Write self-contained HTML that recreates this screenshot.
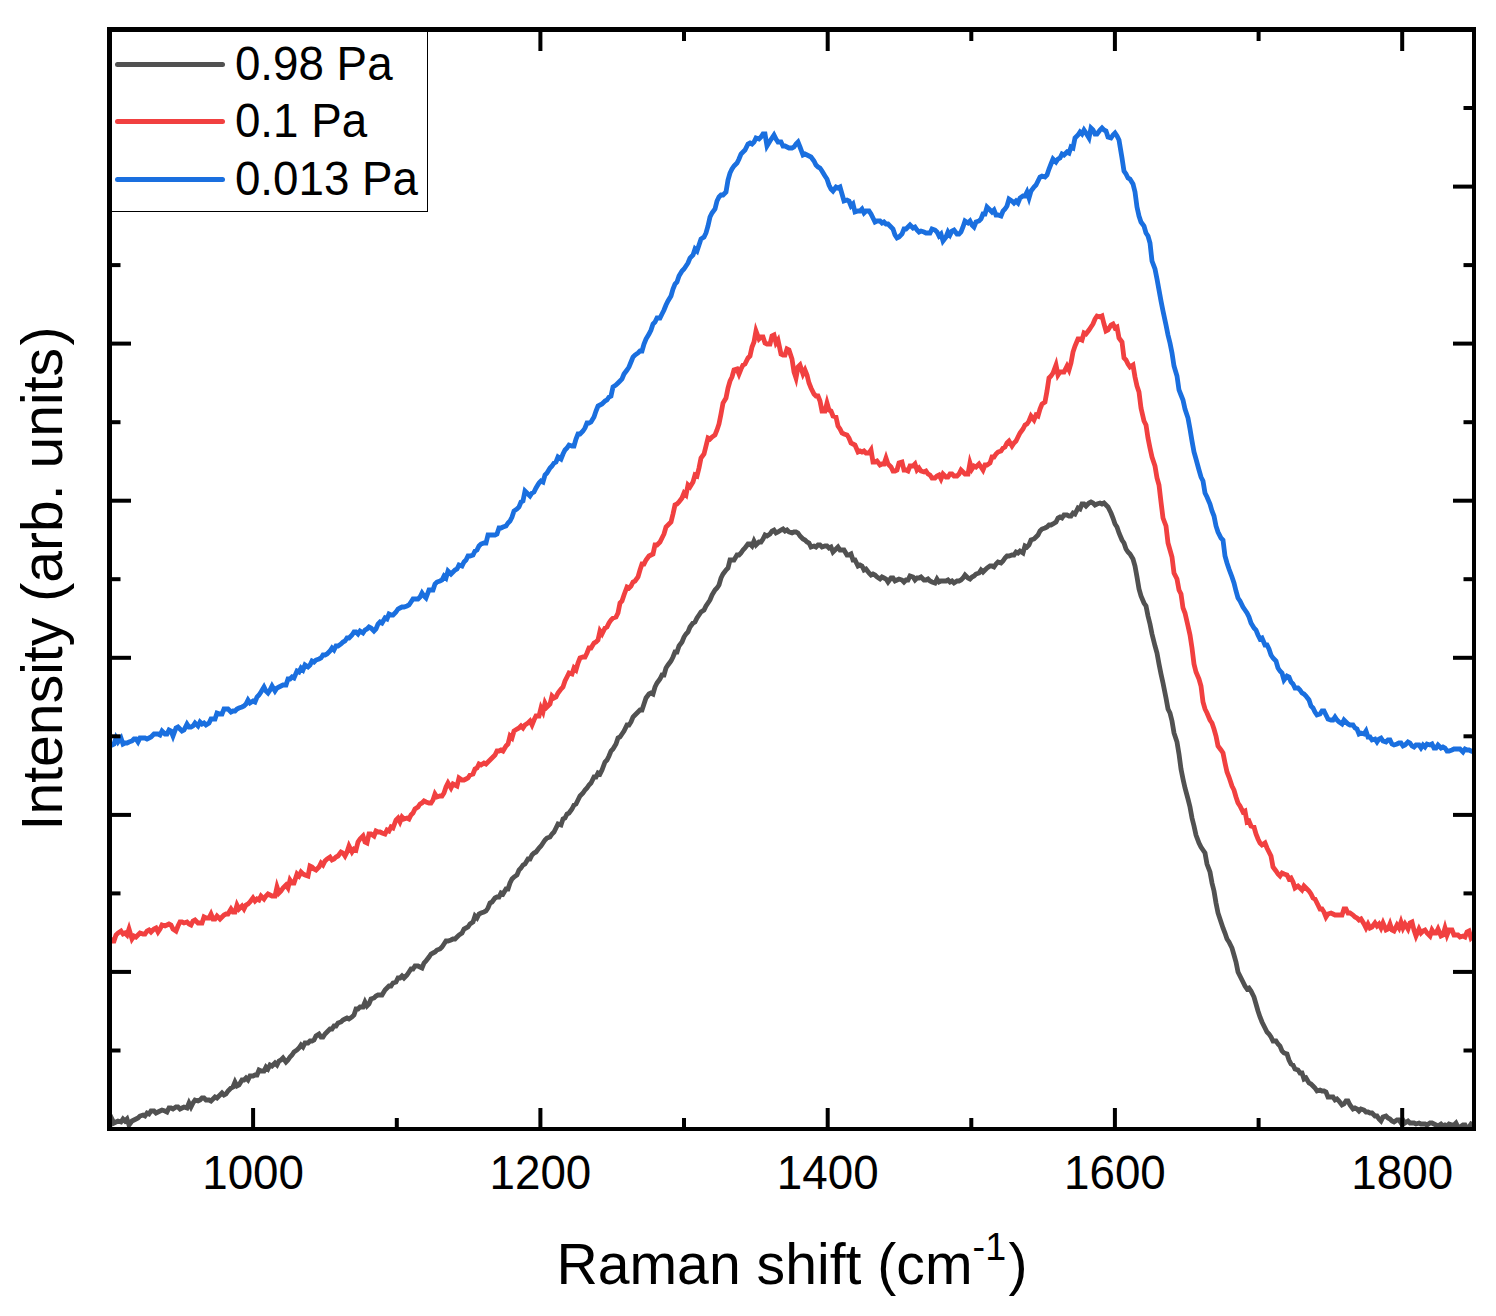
<!DOCTYPE html>
<html lang="en"><head><meta charset="utf-8"><title>Raman spectra</title>
<style>
html,body{margin:0;padding:0;background:#fff;width:1496px;height:1316px;overflow:hidden}
svg text{font-family:"Liberation Sans",Arial,sans-serif}
</style></head><body>
<svg width="1496" height="1316" viewBox="0 0 1496 1316" style="display:block">
<rect x="0" y="0" width="1496" height="1316" fill="#fff"/>
<defs><clipPath id="plot"><rect x="109.5" y="29.5" width="1364.5" height="1099.5"/></clipPath></defs>
<g clip-path="url(#plot)" fill="none" stroke-linejoin="miter" stroke-miterlimit="5" stroke-linecap="butt">
<path d="M110,1126 L112,1119 L114,1123 L116,1122 L118,1121 L121,1122 L123,1119 L125,1121 L127,1119 L129,1125 L132,1121 L134,1120 L136,1119 L138,1118 L140,1116 L143,1115 L145,1116 L147,1113 L149,1114 L151,1111 L154,1111 L156,1113 L158,1112 L160,1111 L162,1110 L165,1111 L167,1112 L169,1108 L171,1108 L173,1109 L176,1107 L178,1107 L180,1109 L182,1108 L184,1107 L187,1108 L189,1103 L191,1107 L193,1103 L195,1100 L198,1101 L200,1100 L202,1098 L204,1098 L206,1100 L209,1100 L211,1101 L213,1099 L215,1097 L217,1098 L220,1095 L222,1093 L224,1095 L226,1094 L228,1091 L231,1088 L233,1087 L235,1082 L237,1086 L239,1085 L242,1080 L244,1080 L246,1078 L248,1080 L250,1076 L253,1076 L255,1075 L257,1075 L259,1070 L261,1071 L264,1071 L266,1067 L268,1069 L270,1065 L272,1066 L275,1063 L277,1065 L279,1061 L281,1060 L283,1058 L286,1062 L288,1060 L290,1057 L292,1055 L294,1052 L297,1050 L299,1048 L301,1045 L303,1047 L305,1043 L308,1043 L310,1041 L312,1041 L314,1040 L316,1036 L319,1034 L321,1037 L323,1037 L325,1034 L327,1032 L330,1029 L332,1029 L334,1026 L336,1026 L338,1023 L341,1022 L343,1020 L345,1019 L347,1018 L349,1019 L352,1017 L354,1015 L356,1009 L358,1009 L360,1007 L363,1007 L365,1002 L367,1006 L369,1004 L371,999 L374,998 L376,996 L378,995 L380,995 L382,995 L385,990 L387,988 L389,986 L391,986 L393,983 L396,982 L398,978 L400,978 L402,976 L404,978 L407,975 L409,972 L411,969 L413,969 L415,966 L418,966 L420,967 L422,968 L424,963 L426,961 L429,957 L431,954 L433,953 L435,952 L437,950 L440,949 L442,947 L444,944 L446,941 L448,941 L451,940 L453,939 L455,939 L457,937 L459,935 L462,933 L464,929 L466,928 L468,927 L470,924 L473,922 L475,916 L477,918 L479,914 L481,913 L484,912 L486,911 L488,908 L490,903 L492,902 L495,898 L497,897 L499,897 L501,893 L503,894 L506,889 L508,889 L510,883 L512,879 L514,877 L517,875 L519,870 L521,868 L523,865 L525,864 L528,859 L530,859 L532,855 L534,853 L536,852 L539,848 L541,846 L543,843 L545,840 L547,838 L550,837 L552,834 L554,832 L556,828 L558,824 L561,825 L563,819 L565,818 L567,814 L569,813 L572,809 L574,805 L576,804 L578,800 L580,796 L583,793 L585,790 L587,788 L589,785 L591,783 L594,777 L596,777 L598,773 L600,774 L602,770 L605,762 L607,760 L609,756 L611,751 L613,749 L616,744 L618,738 L620,737 L622,734 L624,731 L627,725 L629,725 L631,722 L633,717 L635,715 L638,712 L640,710 L642,710 L644,704 L646,698 L649,694 L651,693 L653,694 L655,687 L657,683 L660,679 L662,675 L664,675 L666,668 L668,665 L671,661 L673,657 L675,652 L677,652 L679,646 L682,642 L684,637 L686,634 L688,632 L690,627 L693,623 L695,622 L697,618 L699,615 L701,612 L704,610 L706,606 L708,603 L710,600 L712,595 L715,590 L717,588 L719,585 L721,578 L723,574 L726,570 L728,568 L730,560 L732,560 L734,560 L737,555 L739,555 L741,553 L743,550 L745,548 L748,544 L750,544 L752,546 L754,541 L756,545 L759,542 L761,542 L763,539 L765,535 L767,536 L770,534 L772,531 L774,530 L776,533 L778,532 L781,530 L783,529 L785,531 L787,530 L789,532 L792,533 L794,532 L796,532 L798,533 L800,536 L803,539 L805,540 L807,542 L809,543 L811,547 L814,546 L816,547 L818,545 L820,545 L822,547 L825,546 L827,546 L829,548 L831,547 L833,552 L836,549 L838,547 L840,550 L842,550 L844,550 L847,555 L849,555 L851,554 L853,560 L855,560 L858,566 L860,565 L862,566 L864,570 L866,569 L869,573 L871,575 L873,574 L875,575 L877,577 L880,579 L882,577 L884,578 L886,579 L888,582 L891,578 L893,578 L895,581 L897,580 L899,579 L902,580 L904,582 L906,580 L908,580 L910,576 L913,577 L915,580 L917,578 L919,578 L921,577 L924,580 L926,580 L928,579 L930,581 L932,582 L935,583 L937,579 L939,582 L941,581 L943,581 L946,581 L948,580 L950,582 L952,581 L954,583 L957,581 L959,581 L961,580 L963,578 L965,575 L968,578 L970,579 L972,577 L974,576 L976,574 L979,573 L981,570 L983,572 L985,570 L987,568 L990,566 L992,566 L994,567 L996,564 L998,562 L1001,563 L1003,561 L1005,558 L1007,556 L1009,556 L1012,555 L1014,555 L1016,552 L1018,553 L1020,551 L1023,553 L1025,546 L1027,547 L1029,545 L1031,540 L1034,539 L1036,537 L1038,535 L1040,531 L1042,529 L1045,528 L1047,527 L1049,525 L1051,525 L1053,524 L1056,522 L1058,518 L1060,517 L1062,518 L1064,515 L1067,515 L1069,516 L1071,516 L1073,513 L1075,514 L1078,508 L1080,509 L1082,504 L1084,504 L1086,506 L1089,503 L1091,502 L1093,503 L1095,505 L1097,504 L1100,503 L1102,504 L1104,503 L1106,505 L1108,507 L1111,513 L1113,518 L1115,524 L1117,527 L1119,533 L1122,540 L1124,543 L1126,549 L1128,552 L1130,554 L1133,559 L1135,566 L1137,577 L1139,589 L1141,596 L1144,603 L1146,606 L1148,616 L1150,624 L1152,634 L1155,646 L1157,653 L1159,664 L1161,674 L1163,683 L1166,698 L1168,709 L1170,713 L1172,721 L1174,733 L1177,742 L1179,754 L1181,769 L1183,779 L1185,788 L1188,799 L1190,807 L1192,818 L1194,826 L1196,835 L1199,843 L1201,847 L1203,850 L1205,853 L1207,864 L1210,872 L1212,883 L1214,891 L1216,903 L1218,913 L1221,922 L1223,928 L1225,933 L1227,939 L1229,942 L1232,948 L1234,955 L1236,962 L1238,972 L1240,976 L1243,982 L1245,986 L1247,989 L1249,988 L1251,991 L1254,997 L1256,1004 L1258,1011 L1260,1017 L1262,1022 L1265,1028 L1267,1032 L1269,1034 L1271,1037 L1273,1041 L1276,1041 L1278,1044 L1280,1046 L1282,1051 L1284,1053 L1287,1054 L1289,1060 L1291,1064 L1293,1065 L1295,1069 L1298,1070 L1300,1073 L1302,1073 L1304,1079 L1306,1078 L1309,1083 L1311,1084 L1313,1086 L1315,1088 L1317,1091 L1320,1090 L1322,1091 L1324,1091 L1326,1092 L1328,1097 L1331,1097 L1333,1097 L1335,1100 L1337,1099 L1339,1101 L1342,1105 L1344,1104 L1346,1101 L1348,1101 L1350,1105 L1353,1109 L1355,1108 L1357,1109 L1359,1111 L1361,1109 L1364,1110 L1366,1112 L1368,1112 L1370,1113 L1372,1113 L1375,1116 L1377,1116 L1379,1119 L1381,1121 L1383,1117 L1386,1116 L1388,1118 L1390,1119 L1392,1121 L1394,1122 L1397,1120 L1399,1120 L1401,1123 L1403,1120 L1405,1123 L1408,1121 L1410,1123 L1412,1123 L1414,1123 L1416,1124 L1419,1123 L1421,1124 L1423,1124 L1425,1124 L1427,1125 L1430,1123 L1432,1123 L1434,1124 L1436,1125 L1438,1126 L1441,1124 L1443,1126 L1445,1125 L1447,1126 L1449,1124 L1452,1125 L1454,1125 L1456,1123 L1458,1127 L1460,1127 L1463,1125 L1465,1125 L1467,1129 L1469,1127 L1471,1124 L1474,1126 L1476,1125" stroke="#515151" stroke-width="4.8"/>
<path d="M110,938 L112,941 L114,941 L116,935 L118,933 L121,931 L123,934 L125,933 L127,935 L129,929 L132,939 L134,936 L136,937 L138,935 L140,933 L143,934 L145,934 L147,931 L149,930 L151,932 L154,929 L156,928 L158,932 L160,929 L162,925 L165,926 L167,925 L169,924 L171,925 L173,929 L176,931 L178,926 L180,922 L182,922 L184,923 L187,922 L189,924 L191,925 L193,921 L195,920 L198,923 L200,923 L202,923 L204,917 L206,918 L209,918 L211,914 L213,919 L215,919 L217,916 L220,919 L222,917 L224,915 L226,914 L228,914 L231,909 L233,912 L235,912 L237,905 L239,909 L242,906 L244,909 L246,905 L248,904 L250,902 L253,898 L255,901 L257,899 L259,900 L261,896 L264,899 L266,896 L268,894 L270,895 L272,896 L275,896 L277,887 L279,893 L281,891 L283,888 L286,885 L288,888 L290,880 L292,883 L294,883 L297,874 L299,876 L301,872 L303,874 L305,875 L308,876 L310,866 L312,867 L314,869 L316,870 L319,867 L321,863 L323,865 L325,861 L327,859 L330,857 L332,860 L334,859 L336,857 L338,856 L341,852 L343,853 L345,856 L347,852 L349,846 L352,852 L354,849 L356,850 L358,842 L360,839 L363,836 L365,842 L367,843 L369,834 L371,834 L374,836 L376,831 L378,832 L380,832 L382,833 L385,834 L387,830 L389,831 L391,827 L393,828 L396,820 L398,818 L400,822 L402,817 L404,819 L407,818 L409,819 L411,815 L413,813 L415,809 L418,807 L420,804 L422,803 L424,801 L426,802 L429,803 L431,803 L433,800 L435,794 L437,797 L440,796 L442,796 L444,793 L446,787 L448,783 L451,788 L453,784 L455,785 L457,786 L459,778 L462,780 L464,780 L466,779 L468,778 L470,775 L473,774 L475,769 L477,768 L479,764 L481,765 L484,763 L486,764 L488,762 L490,760 L492,758 L495,755 L497,751 L499,751 L501,750 L503,751 L506,746 L508,744 L510,736 L512,738 L514,731 L517,729 L519,728 L521,726 L523,728 L525,725 L528,723 L530,721 L532,725 L534,720 L536,716 L539,716 L541,708 L543,712 L545,703 L547,707 L550,704 L552,696 L554,698 L556,697 L558,693 L561,689 L563,687 L565,681 L567,677 L569,673 L572,674 L574,668 L576,670 L578,663 L580,658 L583,657 L585,657 L587,653 L589,648 L591,648 L594,643 L596,642 L598,640 L600,631 L602,634 L605,628 L607,627 L609,623 L611,620 L613,618 L616,617 L618,613 L620,603 L622,601 L624,595 L627,587 L629,588 L631,586 L633,582 L635,581 L638,577 L640,570 L642,564 L644,564 L646,560 L649,556 L651,555 L653,554 L655,545 L657,545 L660,542 L662,538 L664,534 L666,527 L668,525 L671,522 L673,514 L675,505 L677,504 L679,502 L682,498 L684,493 L686,495 L688,485 L690,487 L693,482 L695,475 L697,476 L699,468 L701,458 L704,454 L706,446 L708,438 L710,439 L712,437 L715,435 L717,430 L719,424 L721,414 L723,403 L726,398 L728,388 L730,381 L732,377 L734,370 L737,369 L739,374 L741,369 L743,365 L745,364 L748,358 L750,356 L752,347 L754,342 L756,331 L759,339 L761,337 L763,337 L765,343 L767,344 L770,344 L772,336 L774,335 L776,343 L778,340 L781,354 L783,355 L785,355 L787,349 L789,350 L792,359 L794,372 L796,378 L798,367 L800,365 L803,374 L805,370 L807,375 L809,383 L811,388 L814,394 L816,396 L818,396 L820,401 L822,411 L825,411 L827,403 L829,410 L831,411 L833,416 L836,417 L838,426 L840,429 L842,433 L844,434 L847,435 L849,438 L851,443 L853,444 L855,445 L858,452 L860,451 L862,452 L864,451 L866,453 L869,453 L871,450 L873,462 L875,462 L877,461 L880,465 L882,464 L884,464 L886,458 L888,464 L891,467 L893,471 L895,471 L897,470 L899,463 L902,462 L904,470 L906,470 L908,471 L910,466 L913,466 L915,464 L917,470 L919,468 L921,471 L924,472 L926,471 L928,474 L930,475 L932,478 L935,478 L937,476 L939,475 L941,479 L943,474 L946,477 L948,477 L950,474 L952,474 L954,476 L957,476 L959,474 L961,470 L963,472 L965,474 L968,474 L970,463 L972,469 L974,466 L976,467 L979,464 L981,467 L983,470 L985,465 L987,465 L990,463 L992,457 L994,457 L996,454 L998,452 L1001,451 L1003,448 L1005,447 L1007,443 L1009,441 L1012,446 L1014,443 L1016,441 L1018,437 L1020,433 L1023,429 L1025,425 L1027,424 L1029,421 L1031,416 L1034,420 L1036,415 L1038,416 L1040,409 L1042,404 L1045,402 L1047,391 L1049,378 L1051,376 L1053,373 L1056,365 L1058,375 L1060,372 L1062,372 L1064,372 L1067,366 L1069,370 L1071,363 L1073,352 L1075,346 L1078,339 L1080,339 L1082,340 L1084,333 L1086,334 L1089,330 L1091,327 L1093,324 L1095,319 L1097,316 L1100,317 L1102,316 L1104,324 L1106,331 L1108,330 L1111,325 L1113,324 L1115,328 L1117,327 L1119,338 L1122,342 L1124,358 L1126,360 L1128,364 L1130,367 L1133,365 L1135,377 L1137,386 L1139,392 L1141,408 L1144,421 L1146,425 L1148,438 L1150,448 L1152,457 L1155,466 L1157,478 L1159,485 L1161,502 L1163,518 L1166,526 L1168,543 L1170,550 L1172,557 L1174,573 L1177,579 L1179,590 L1181,594 L1183,608 L1185,613 L1188,626 L1190,635 L1192,648 L1194,664 L1196,672 L1199,679 L1201,686 L1203,702 L1205,709 L1207,713 L1210,720 L1212,723 L1214,729 L1216,736 L1218,746 L1221,750 L1223,753 L1225,763 L1227,772 L1229,777 L1232,786 L1234,790 L1236,797 L1238,803 L1240,806 L1243,812 L1245,811 L1247,822 L1249,821 L1251,826 L1254,827 L1256,834 L1258,839 L1260,843 L1262,845 L1265,843 L1267,848 L1269,852 L1271,856 L1273,867 L1276,871 L1278,874 L1280,876 L1282,873 L1284,874 L1287,875 L1289,879 L1291,878 L1293,882 L1295,888 L1298,886 L1300,888 L1302,890 L1304,886 L1306,888 L1309,891 L1311,894 L1313,898 L1315,899 L1317,903 L1320,909 L1322,909 L1324,912 L1326,917 L1328,914 L1331,913 L1333,914 L1335,915 L1337,915 L1339,915 L1342,915 L1344,909 L1346,909 L1348,913 L1350,913 L1353,915 L1355,917 L1357,918 L1359,920 L1361,919 L1364,924 L1366,928 L1368,924 L1370,928 L1372,927 L1375,923 L1377,926 L1379,924 L1381,928 L1383,923 L1386,930 L1388,929 L1390,924 L1392,930 L1394,931 L1397,925 L1399,928 L1401,922 L1403,928 L1405,924 L1408,929 L1410,923 L1412,922 L1414,930 L1416,936 L1419,929 L1421,933 L1423,931 L1425,930 L1427,933 L1430,936 L1432,930 L1434,933 L1436,933 L1438,929 L1441,936 L1443,935 L1445,928 L1447,935 L1449,930 L1452,930 L1454,935 L1456,935 L1458,935 L1460,937 L1463,936 L1465,937 L1467,932 L1469,931 L1471,938 L1474,935 L1476,938" stroke="#F14040" stroke-width="4.8"/>
<path d="M110,745 L112,745 L114,744 L116,738 L118,742 L121,738 L123,744 L125,743 L127,743 L129,742 L132,741 L134,739 L136,739 L138,742 L140,738 L143,738 L145,738 L147,739 L149,738 L151,737 L154,734 L156,734 L158,734 L160,735 L162,731 L165,734 L167,734 L169,730 L171,731 L173,736 L176,728 L178,727 L180,729 L182,731 L184,730 L187,724 L189,727 L191,727 L193,726 L195,723 L198,726 L200,722 L202,724 L204,723 L206,725 L209,723 L211,719 L213,719 L215,719 L217,713 L220,714 L222,714 L224,709 L226,709 L228,709 L231,712 L233,711 L235,711 L237,709 L239,708 L242,707 L244,706 L246,704 L248,700 L250,703 L253,701 L255,702 L257,697 L259,695 L261,692 L264,687 L266,691 L268,693 L270,690 L272,686 L275,691 L277,688 L279,687 L281,686 L283,685 L286,685 L288,679 L290,679 L292,677 L294,678 L297,671 L299,672 L301,668 L303,670 L305,665 L308,667 L310,665 L312,661 L314,662 L316,660 L319,659 L321,658 L323,655 L325,655 L327,654 L330,651 L332,648 L334,650 L336,646 L338,646 L341,644 L343,642 L345,641 L347,638 L349,638 L352,635 L354,632 L356,632 L358,634 L360,631 L363,633 L365,630 L367,629 L369,627 L371,628 L374,631 L376,629 L378,624 L380,622 L382,623 L385,618 L387,619 L389,614 L391,615 L393,615 L396,612 L398,609 L400,608 L402,607 L404,607 L407,606 L409,605 L411,602 L413,599 L415,599 L418,599 L420,597 L422,593 L424,596 L426,598 L429,590 L431,590 L433,590 L435,584 L437,582 L440,581 L442,580 L444,576 L446,578 L448,571 L451,574 L453,572 L455,570 L457,569 L459,565 L462,566 L464,562 L466,560 L468,556 L470,556 L473,555 L475,551 L477,550 L479,546 L481,544 L484,543 L486,543 L488,535 L490,535 L492,535 L495,535 L497,534 L499,528 L501,528 L503,527 L506,526 L508,523 L510,521 L512,517 L514,511 L517,509 L519,507 L521,502 L523,501 L525,491 L528,494 L530,496 L532,493 L534,492 L536,488 L539,483 L541,481 L543,482 L545,475 L547,473 L550,468 L552,466 L554,463 L556,462 L558,457 L561,459 L563,454 L565,450 L567,448 L569,445 L572,446 L574,446 L576,439 L578,434 L580,434 L583,431 L585,428 L587,423 L589,423 L591,422 L594,417 L596,411 L598,406 L600,405 L602,404 L605,401 L607,400 L609,397 L611,396 L613,387 L616,385 L618,383 L620,381 L622,379 L624,374 L627,370 L629,367 L631,362 L633,357 L635,355 L638,353 L640,351 L642,351 L644,344 L646,339 L649,334 L651,330 L653,324 L655,322 L657,318 L660,318 L662,314 L664,310 L666,305 L668,301 L671,296 L673,289 L675,284 L677,282 L679,276 L682,271 L684,269 L686,266 L688,263 L690,258 L693,255 L695,249 L697,251 L699,245 L701,239 L704,237 L706,233 L708,226 L710,217 L712,213 L715,209 L717,201 L719,197 L721,195 L723,195 L726,192 L728,180 L730,173 L732,169 L734,166 L737,163 L739,159 L741,154 L743,152 L745,150 L748,144 L750,143 L752,144 L754,142 L756,138 L759,139 L761,137 L763,134 L765,134 L767,146 L770,141 L772,138 L774,135 L776,139 L778,142 L781,142 L783,146 L785,146 L787,147 L789,148 L792,148 L794,147 L796,144 L798,142 L800,147 L803,155 L805,154 L807,155 L809,156 L811,157 L814,161 L816,165 L818,167 L820,168 L822,171 L825,176 L827,179 L829,185 L831,189 L833,191 L836,187 L838,188 L840,187 L842,194 L844,201 L847,200 L849,201 L851,206 L853,204 L855,212 L858,211 L860,211 L862,209 L864,213 L866,211 L869,211 L871,214 L873,218 L875,222 L877,221 L880,221 L882,223 L884,222 L886,224 L888,224 L891,227 L893,229 L895,235 L897,238 L899,237 L902,234 L904,229 L906,229 L908,227 L910,225 L913,228 L915,227 L917,230 L919,232 L921,231 L924,232 L926,233 L928,233 L930,233 L932,229 L935,230 L937,232 L939,236 L941,234 L943,241 L946,237 L948,232 L950,235 L952,231 L954,230 L957,234 L959,234 L961,232 L963,227 L965,221 L968,223 L970,221 L972,225 L974,227 L976,222 L979,221 L981,219 L983,214 L985,214 L987,207 L990,210 L992,212 L994,210 L996,215 L998,215 L1001,216 L1003,211 L1005,209 L1007,206 L1009,199 L1012,201 L1014,203 L1016,201 L1018,203 L1020,198 L1023,196 L1025,196 L1027,192 L1029,198 L1031,191 L1034,187 L1036,185 L1038,181 L1040,177 L1042,176 L1045,177 L1047,175 L1049,169 L1051,164 L1053,159 L1056,162 L1058,159 L1060,158 L1062,154 L1064,155 L1067,152 L1069,153 L1071,147 L1073,148 L1075,138 L1078,135 L1080,132 L1082,134 L1084,130 L1086,133 L1089,138 L1091,128 L1093,130 L1095,134 L1097,134 L1100,130 L1102,128 L1104,130 L1106,131 L1108,137 L1111,138 L1113,135 L1115,133 L1117,136 L1119,140 L1122,158 L1124,171 L1126,174 L1128,178 L1130,179 L1133,184 L1135,192 L1137,207 L1139,216 L1141,222 L1144,226 L1146,233 L1148,236 L1150,243 L1152,261 L1155,269 L1157,279 L1159,290 L1161,301 L1163,311 L1166,325 L1168,335 L1170,343 L1172,353 L1174,366 L1177,376 L1179,390 L1181,395 L1183,400 L1185,409 L1188,418 L1190,429 L1192,441 L1194,452 L1196,459 L1199,470 L1201,477 L1203,481 L1205,493 L1207,497 L1210,504 L1212,511 L1214,516 L1216,526 L1218,532 L1221,538 L1223,540 L1225,556 L1227,563 L1229,569 L1232,577 L1234,583 L1236,591 L1238,598 L1240,601 L1243,607 L1245,610 L1247,613 L1249,617 L1251,623 L1254,628 L1256,630 L1258,635 L1260,639 L1262,638 L1265,645 L1267,645 L1269,649 L1271,655 L1273,658 L1276,661 L1278,668 L1280,671 L1282,673 L1284,680 L1287,676 L1289,677 L1291,682 L1293,684 L1295,688 L1298,688 L1300,690 L1302,693 L1304,694 L1306,696 L1309,700 L1311,706 L1313,708 L1315,712 L1317,715 L1320,714 L1322,711 L1324,711 L1326,715 L1328,719 L1331,720 L1333,720 L1335,717 L1337,720 L1339,722 L1342,724 L1344,720 L1346,722 L1348,724 L1350,725 L1353,725 L1355,728 L1357,729 L1359,734 L1361,733 L1364,734 L1366,731 L1368,737 L1370,737 L1372,740 L1375,739 L1377,742 L1379,739 L1381,738 L1383,741 L1386,742 L1388,740 L1390,740 L1392,744 L1394,745 L1397,744 L1399,743 L1401,743 L1403,746 L1405,745 L1408,742 L1410,743 L1412,746 L1414,747 L1416,745 L1419,745 L1421,748 L1423,745 L1425,747 L1427,744 L1430,745 L1432,744 L1434,748 L1436,748 L1438,745 L1441,748 L1443,747 L1445,748 L1447,751 L1449,751 L1452,750 L1454,749 L1456,749 L1458,749 L1460,749 L1463,752 L1465,749 L1467,750 L1469,750 L1471,751 L1474,752 L1476,752" stroke="#1A6FDF" stroke-width="4.8"/>
</g>
<g fill="#000">
<rect x="107" y="27" width="5" height="1104"/>
<rect x="107" y="27" width="1369" height="5"/>
<rect x="1472" y="27" width="4" height="1104"/>
<rect x="107" y="1127" width="1369" height="4"/>
<rect x="251.1" y="1108" width="4" height="19"/>
<rect x="251.1" y="32" width="4" height="19"/>
<rect x="394.8" y="1118" width="4" height="9"/>
<rect x="394.8" y="32" width="4" height="9"/>
<rect x="538.4" y="1108" width="4" height="19"/>
<rect x="538.4" y="32" width="4" height="19"/>
<rect x="682.0" y="1118" width="4" height="9"/>
<rect x="682.0" y="32" width="4" height="9"/>
<rect x="825.7" y="1108" width="4" height="19"/>
<rect x="825.7" y="32" width="4" height="19"/>
<rect x="969.3" y="1118" width="4" height="9"/>
<rect x="969.3" y="32" width="4" height="9"/>
<rect x="1112.9" y="1108" width="4" height="19"/>
<rect x="1112.9" y="32" width="4" height="19"/>
<rect x="1256.6" y="1118" width="4" height="9"/>
<rect x="1256.6" y="32" width="4" height="9"/>
<rect x="1400.2" y="1108" width="4" height="19"/>
<rect x="1400.2" y="32" width="4" height="19"/>
<rect x="112" y="1048.5" width="8.5" height="4"/>
<rect x="1463.5" y="1048.5" width="8.5" height="4"/>
<rect x="112" y="969.9" width="19" height="4"/>
<rect x="1453" y="969.9" width="19" height="4"/>
<rect x="112" y="891.4" width="8.5" height="4"/>
<rect x="1463.5" y="891.4" width="8.5" height="4"/>
<rect x="112" y="812.9" width="19" height="4"/>
<rect x="1453" y="812.9" width="19" height="4"/>
<rect x="112" y="734.3" width="8.5" height="4"/>
<rect x="1463.5" y="734.3" width="8.5" height="4"/>
<rect x="112" y="655.8" width="19" height="4"/>
<rect x="1453" y="655.8" width="19" height="4"/>
<rect x="112" y="577.2" width="8.5" height="4"/>
<rect x="1463.5" y="577.2" width="8.5" height="4"/>
<rect x="112" y="498.7" width="19" height="4"/>
<rect x="1453" y="498.7" width="19" height="4"/>
<rect x="112" y="420.2" width="8.5" height="4"/>
<rect x="1463.5" y="420.2" width="8.5" height="4"/>
<rect x="112" y="341.6" width="19" height="4"/>
<rect x="1453" y="341.6" width="19" height="4"/>
<rect x="112" y="263.1" width="8.5" height="4"/>
<rect x="1463.5" y="263.1" width="8.5" height="4"/>
<rect x="112" y="184.6" width="19" height="4"/>
<rect x="1453" y="184.6" width="19" height="4"/>
<rect x="112" y="106.0" width="8.5" height="4"/>
<rect x="1463.5" y="106.0" width="8.5" height="4"/>
</g>
<g font-family="'Liberation Sans', Arial, sans-serif" fill="#000">
<text transform="translate(253.1,1189.1) scale(0.955,1.007)" font-size="47.9" text-anchor="middle">1000</text>
<text transform="translate(540.4,1189.1) scale(0.955,1.007)" font-size="47.9" text-anchor="middle">1200</text>
<text transform="translate(827.7,1189.1) scale(0.955,1.007)" font-size="47.9" text-anchor="middle">1400</text>
<text transform="translate(1114.9,1189.1) scale(0.955,1.007)" font-size="47.9" text-anchor="middle">1600</text>
<text transform="translate(1402.2,1189.1) scale(0.955,1.007)" font-size="47.9" text-anchor="middle">1800</text>
<text transform="translate(556.4,1284) scale(0.997,1.01)" font-size="57.35">Raman shift (cm<tspan font-size="37.85" dy="-24.15">-1</tspan><tspan dy="24.15" dx="2.5">)</tspan></text>
<text transform="translate(62,830.4) rotate(-90) scale(0.996,1.01)" font-size="57.35">Intensity (arb. units<tspan dx="2.5">)</tspan></text>
<rect x="111.5" y="31.5" width="316" height="180" fill="#fff" stroke="#000" stroke-width="1"/>
<rect x="107" y="27" width="5" height="190" fill="#000"/>
<rect x="107" y="27" width="330" height="5" fill="#000"/>
<line x1="117.5" y1="64.5" x2="222.5" y2="64.5" stroke="#515151" stroke-width="5" stroke-linecap="round"/>
<text transform="translate(234.9,79.9) scale(0.955,1.016)" font-size="47.9">0.98 Pa</text>
<line x1="117.5" y1="121.5" x2="222.5" y2="121.5" stroke="#F14040" stroke-width="5" stroke-linecap="round"/>
<text transform="translate(234.9,137.0) scale(0.955,1.016)" font-size="47.9">0.1 Pa</text>
<line x1="117.5" y1="179.5" x2="222.5" y2="179.5" stroke="#1A6FDF" stroke-width="5" stroke-linecap="round"/>
<text transform="translate(234.9,194.8) scale(0.955,1.016)" font-size="47.9">0.013 Pa</text>
</g>
</svg>
</body></html>
